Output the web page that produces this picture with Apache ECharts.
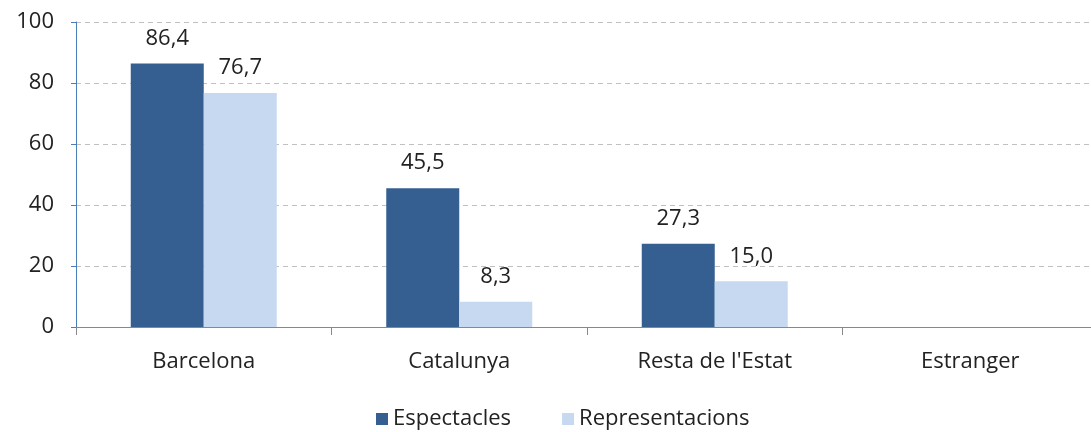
<!DOCTYPE html>
<html>
<head>
<meta charset="utf-8">
<script src="https://cdn.jsdelivr.net/npm/echarts@6/dist/echarts.min.js"></script>
<style>
  html, body { margin: 0; padding: 0; background: #fff; overflow: hidden; }
  #chart { width: 1110px; height: 432px; }
</style>
</head>
<body>
<div id="chart"></div>
<script>
const CATEGORIES = ["Barcelona", "Catalunya", "Resta de l'Estat", "Estranger"];
const ESPECTACLES = [86.4, 45.5, 27.3, null];
const REPRESENTACIONS = [76.7, 8.3, 15.0, null];
const SERIES_NAMES = ["Espectacles", "Representacions"];

const FONT = "'Open Sans', sans-serif";
const FS = 22;
const fmt = (p) => p.value == null ? "" : p.value.toFixed(1).replace(".", ",");

const chart = echarts.init(document.getElementById("chart"), null, { renderer: "canvas" });
chart.setOption({
  animation: false,
  backgroundColor: "#fff",
  textStyle: { fontFamily: FONT, color: "#222" },
  grid: { left: 76, top: 22, width: 1022, height: 305, containLabel: false },
  legend: {
    top: 403,
    left: 371,
    itemWidth: 12,
    itemHeight: 12,
    itemGap: 51,
    icon: "rect",
    textStyle: { fontFamily: FONT, fontSize: FS, color: "#222" },
    data: SERIES_NAMES,
  },
  xAxis: {
    type: "category",
    data: CATEGORIES,
    axisLine: { lineStyle: { color: "#888", width: 1 } },
    axisTick: { show: true, length: 8, lineStyle: { color: "#888" } },
    axisLabel: { fontFamily: FONT, fontSize: FS, color: "#222", margin: 24 },
  },
  yAxis: {
    type: "value",
    min: 0,
    max: 100,
    interval: 20,
    axisLine: { show: true, lineStyle: { color: "#4a7ebb", width: 1 } },
    axisTick: { show: true, length: 5, lineStyle: { color: "#4a7ebb" } },
    axisLabel: { fontFamily: FONT, fontSize: FS, color: "#222", margin: 22 },
    splitLine: { lineStyle: { color: "#c0c0c0", type: [5, 4] } },
  },
  series: [
    {
      name: SERIES_NAMES[0],
      type: "bar",
      data: ESPECTACLES,
      barWidth: 73,
      barGap: "0%",
      itemStyle: { color: "#355f91" },
      label: { show: true, position: "top", distance: 14, formatter: fmt,
               fontFamily: FONT, fontSize: FS, color: "#222" },
    },
    {
      name: SERIES_NAMES[1],
      type: "bar",
      data: REPRESENTACIONS,
      barWidth: 73,
      barGap: "0%",
      itemStyle: { color: "#c6d9f1" },
      label: { show: true, position: "top", distance: 14, formatter: fmt,
               fontFamily: FONT, fontSize: FS, color: "#222" },
    },
  ],
});
</script>
</body>
</html>
